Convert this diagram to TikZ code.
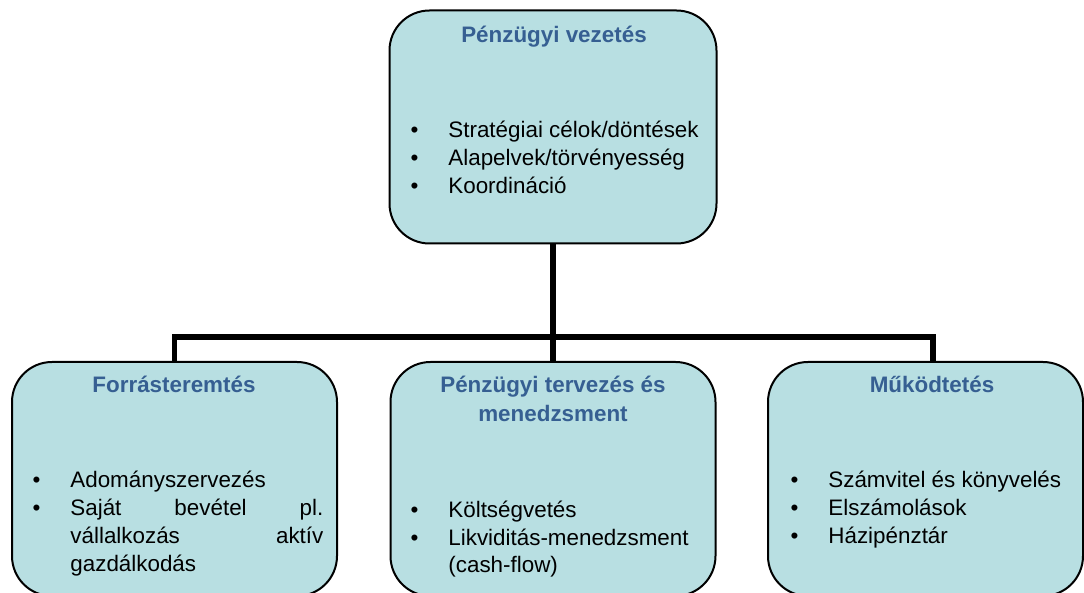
\documentclass[tikz,border=0pt]{standalone}
\usepackage{fontspec}
\setmainfont{Liberation Sans}
\definecolor{dobozkek}{RGB}{184,223,226}
\definecolor{cimkek}{RGB}{54,95,146}
\tikzset{
  doboz/.style={draw=black, line width=1pt, fill=dobozkek, rounded corners=20pt,
    minimum width=162.5pt, minimum height=117pt, inner sep=0pt},
  cim/.style={font=\fontsize{11.2}{14.5}\selectfont\bfseries, text=cimkek,
    anchor=base, inner sep=0pt},
  tetel/.style={font=\fontsize{11.2}{14}\selectfont, anchor=base west, inner sep=0pt},
  vonal/.style={line width=2.75pt}
}
\newcommand{\pont}{\llap{\textbullet\hspace{15pt}}}

\begin{document}
\begin{tikzpicture}[x=0.5pt,y=-0.5pt]
  \clip (0,0) rectangle (1084,593);
  % dobozok
  \node[doboz, minimum width=163.5pt, minimum height=116.5pt] (vezetes) at (553,127) {};
  \node[doboz] (forras) at (174.5,479) {};
  \node[doboz] (tervezes) at (553,479) {};
  \node[doboz, minimum width=157.5pt] (mukodtetes) at (925.5,479) {};
  % osszekotes
  \coordinate (elagazas) at (553,337);
  \coordinate (jobbag) at (933,362);
  \draw[vonal] (vezetes.south) -- (elagazas);
  \draw[vonal] (forras.north) |- (elagazas) -| (jobbag);
  \draw[vonal] (tervezes.north) -- (elagazas);
  % cimek
  \node[cim] (vezetes-cim) at (554,43) {Pénzügyi vezetés};
  \node[cim] (forras-cim) at (174,393) {Forrásteremtés};
  \node[cim] (tervezes-cim1) at (553,393) {Pénzügyi tervezés és};
  \node[cim] (tervezes-cim2) at (553,422) {menedzsment};
  \node[cim] (mukodtetes-cim) at (932,393) {Működtetés};
  % tetelek
  \node[tetel] (v1) at (448,138) {\pont Stratégiai célok/döntések};
  \node[tetel] (v2) at (448,166) {\pont Alapelvek/törvényesség};
  \node[tetel] (v3) at (448,194) {\pont Koordináció};
  \node[tetel] (f1) at (70,488) {\pont Adományszervezés};
  \node[tetel] (f2) at (70,516) {\pont\makebox[126.5pt][s]{Saját bevétel pl.}};
  \node[tetel] (f3) at (70,544) {\makebox[126.5pt][s]{vállalkozás aktív}};
  \node[tetel] (f4) at (70,572) {gazdálkodás};
  \node[tetel] (t1) at (448,518) {\pont Költségvetés};
  \node[tetel] (t2) at (448,546) {\pont Likviditás-menedzsment};
  \node[tetel] (t3) at (448,573) {(cash-flow)};
  \node[tetel] (m1) at (828,488) {\pont Számvitel és könyvelés};
  \node[tetel] (m2) at (828,516) {\pont Elszámolások};
  \node[tetel] (m3) at (828,544) {\pont Házipénztár};
\end{tikzpicture}
\end{document}
